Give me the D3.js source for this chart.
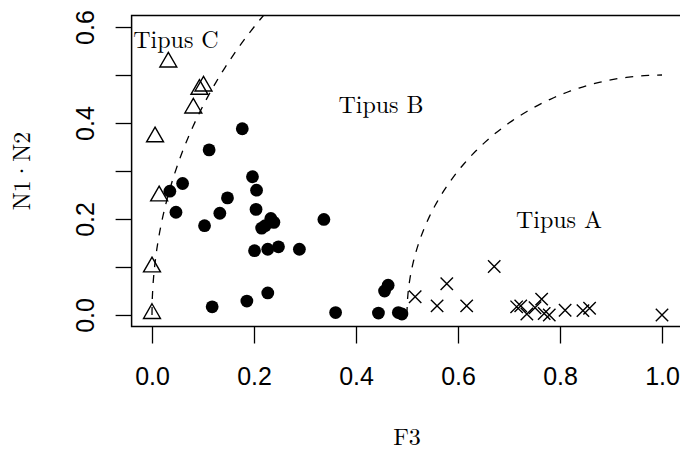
<!DOCTYPE html>
<html>
<head>
<meta charset="utf-8">
<script src="https://cdn.jsdelivr.net/npm/d3@7"></script>
<style>
  body { margin: 0; background: #fff; }
  svg { display: block; }
</style>
</head>
<body>
<div id="chart-area"></div>
<script>
// Tipus C (open triangles)
const tipusCx = [0.032, 0.101, 0.093, 0.081, 0.006, 0.014, 0.000, 0.000];
const tipusCy = [0.527, 0.477, 0.470, 0.431, 0.371, 0.248, 0.100, 0.003];

// Tipus B (filled circles)
const tipusBx = [0.035, 0.060, 0.047, 0.103, 0.133, 0.148, 0.197, 0.205, 0.204, 0.233,
                 0.239, 0.215, 0.222, 0.201, 0.227, 0.248, 0.289, 0.337, 0.118, 0.186,
                 0.227, 0.360, 0.177, 0.112, 0.463, 0.456, 0.444, 0.483, 0.490];
const tipusBy = [0.258, 0.274, 0.214, 0.186, 0.212, 0.244, 0.288, 0.260, 0.220, 0.201,
                 0.193, 0.181, 0.186, 0.134, 0.137, 0.142, 0.137, 0.199, 0.017, 0.029,
                 0.046, 0.005, 0.388, 0.344, 0.062, 0.050, 0.004, 0.005, 0.002];

// Tipus A (crosses)
const tipusAx = [0.516, 0.578, 0.559, 0.617, 0.671, 0.715, 0.723, 0.735, 0.751, 0.764,
                 0.769, 0.779, 0.810, 0.845, 0.858, 1.000];
const tipusAy = [0.038, 0.065, 0.019, 0.019, 0.101, 0.017, 0.019, 0.002, 0.015, 0.033,
                 0.003, 0.000, 0.010, 0.009, 0.014, 0.000];

// region labels, in data units
const regionNames = ['Tipus C', 'Tipus B', 'Tipus A'];
const regionX = [0.047, 0.449, 0.798];
const regionY = [0.573, 0.4375, 0.198];

// boundary arcs: circles around (1, 0)
const arcCenter = [1, 0];
const arcRadii = [1, 0.5];

const xTicks = [0, 0.2, 0.4, 0.6, 0.8, 1.0];
const yTicks = [0, 0.1, 0.2, 0.3, 0.4, 0.5, 0.6];
const yLabelTicks = [0, 0.2, 0.4, 0.6];

const W = 680, H = 452;
const margin = {top: 15.5, right: -2.4, bottom: 125.5, left: 131.6};
const wGraph = W - margin.left - margin.right;
const hGraph = H - margin.top - margin.bottom;

const serif = '"Latin Modern Roman", "CMU Serif", "Liberation Serif", serif';
const sans = '"Liberation Sans", Arial, Helvetica, sans-serif';

const svg = d3.select('#chart-area')
    .append('svg')
    .attr('width', W)
    .attr('height', H);

const graph = svg.append('g')
    .attr('transform', `translate(${margin.left}, ${margin.top})`);

// R style: range extended by 4% each side
const xScale = d3.scaleLinear().domain([-0.04, 1.04]).range([0, wGraph]);
const yScale = d3.scaleLinear().domain([-0.024, 0.624]).range([hGraph, 0]);

graph.append('clipPath')
    .attr('id', 'plot-clip')
    .append('rect')
    .attr('width', wGraph)
    .attr('height', hGraph);

// X axis
const xAxis = graph.append('g')
    .attr('transform', `translate(0, ${hGraph})`)
    .call(d3.axisBottom(xScale)
        .tickValues(xTicks)
        .tickSize(17)
        .tickPadding(24)
        .tickFormat(d3.format('.1f')));
xAxis.select('.domain').remove();
xAxis.selectAll('line').attr('stroke', '#000').attr('stroke-width', 1.3);
xAxis.selectAll('text')
    .attr('font-family', sans)
    .attr('font-size', '25px')
    .attr('fill', '#000');

// Y axis, labels rotated like R's las=0
const yAxis = graph.append('g')
    .call(d3.axisLeft(yScale)
        .tickValues(yTicks)
        .tickSize(16)
        .tickFormat(d => yLabelTicks.some(v => Math.abs(v - d) < 1e-9) ? d3.format('.1f')(d) : ''));
yAxis.select('.domain').remove();
yAxis.selectAll('line').attr('stroke', '#000').attr('stroke-width', 1.3);
yAxis.selectAll('text')
    .attr('font-family', sans)
    .attr('font-size', '25px')
    .attr('fill', '#000')
    .attr('transform', 'rotate(-90)')
    .attr('x', 0)
    .attr('y', -37.6)
    .attr('dy', 0)
    .attr('text-anchor', 'middle');

// Axis titles
svg.append('text')
    .attr('x', margin.left + wGraph / 2)
    .attr('y', 445)
    .attr('text-anchor', 'middle')
    .attr('font-family', serif)
    .attr('font-size', '24px')
    .text('F3');

svg.append('text')
    .attr('transform', `translate(30, ${margin.top + hGraph / 2}) rotate(-90)`)
    .attr('text-anchor', 'middle')
    .attr('font-family', serif)
    .attr('font-size', '24px')
    .text('N1·N2');

// Plot body
const body = graph.append('g').attr('clip-path', 'url(#plot-clip)');

// Dashed boundary arcs
arcRadii.forEach(r => {
    const pts = d3.range(0, 91).map(a => {
        const t = a * Math.PI / 180;
        return [arcCenter[0] - r * Math.cos(t), arcCenter[1] + r * Math.sin(t)];
    });
    body.append('path')
        .datum(pts)
        .attr('fill', 'none')
        .attr('stroke', '#000')
        .attr('stroke-width', 1.3)
        .attr('stroke-dasharray', '8,8')
        .attr('d', d3.line().x(d => xScale(d[0])).y(d => yScale(d[1])));
});

// Tipus B: filled circles
body.selectAll('.pt-b')
    .data(tipusBx.map((x, i) => ({x: x, y: tipusBy[i]})))
    .enter()
    .append('circle')
    .attr('class', 'pt-b')
    .attr('cx', d => xScale(d.x))
    .attr('cy', d => yScale(d.y))
    .attr('r', 6.4)
    .attr('fill', '#000');

// Tipus C: open triangles
const tri = d3.symbol().type(d3.symbolTriangle).size(124);
body.selectAll('.pt-c')
    .data(tipusCx.map((x, i) => ({x: x, y: tipusCy[i]})))
    .enter()
    .append('path')
    .attr('class', 'pt-c')
    .attr('transform', d => `translate(${xScale(d.x)}, ${yScale(d.y)})`)
    .attr('d', tri)
    .attr('fill', 'none')
    .attr('stroke', '#000')
    .attr('stroke-width', 1.4);

// Tipus A: crosses
const c = 6.2;
body.selectAll('.pt-a')
    .data(tipusAx.map((x, i) => ({x: x, y: tipusAy[i]})))
    .enter()
    .append('path')
    .attr('class', 'pt-a')
    .attr('transform', d => `translate(${xScale(d.x)}, ${yScale(d.y)})`)
    .attr('d', `M${-c},${-c}L${c},${c}M${-c},${c}L${c},${-c}`)
    .attr('fill', 'none')
    .attr('stroke', '#000')
    .attr('stroke-width', 1.4);

// Region labels
body.selectAll('.region')
    .data(regionNames)
    .enter()
    .append('text')
    .attr('class', 'region')
    .attr('x', (d, i) => xScale(regionX[i]))
    .attr('y', (d, i) => yScale(regionY[i]))
    .attr('dy', '0.35em')
    .attr('text-anchor', 'middle')
    .attr('font-family', serif)
    .attr('font-size', '24px')
    .text(d => d);

// Box
graph.append('rect')
    .attr('width', wGraph)
    .attr('height', hGraph)
    .attr('fill', 'none')
    .attr('stroke', '#000')
    .attr('stroke-width', 1.5);
</script>
</body>
</html>
